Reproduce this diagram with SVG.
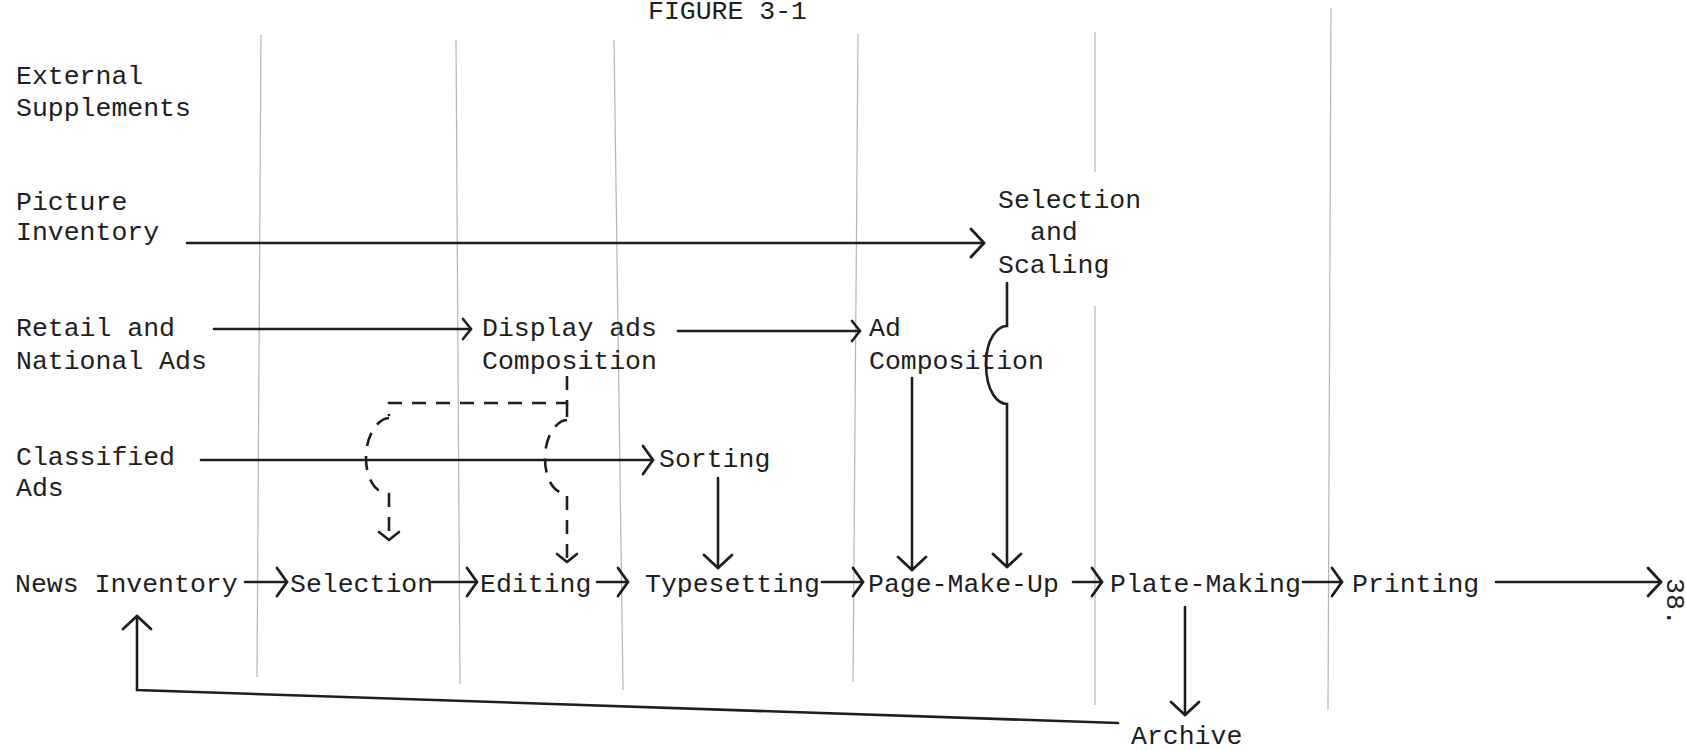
<svg xmlns="http://www.w3.org/2000/svg" width="1686" height="750" viewBox="0 0 1686 750">
<defs>
<style>
text{font-family:"Liberation Mono","DejaVu Sans Mono",monospace;font-size:26.5px;fill:#1e1e1e}
.grid{stroke:#b4b4b4;stroke-width:1.2;fill:none}
.ln{stroke:#1e1e1e;stroke-width:2.6;fill:none;stroke-linecap:round}
.ds{stroke:#1e1e1e;stroke-width:2.6;fill:none;stroke-dasharray:14 10}
</style>
<marker id="big" viewBox="-16 -16 18 32" markerWidth="18" markerHeight="32" refX="0" refY="0" orient="auto" markerUnits="userSpaceOnUse"><path d="M-13,-14 L0,0 L-13,14" fill="none" stroke="#1e1e1e" stroke-width="2.8" stroke-linejoin="round" stroke-linecap="round"/></marker>
<marker id="mid" viewBox="-16 -16 18 32" markerWidth="18" markerHeight="32" refX="0" refY="0" orient="auto" markerUnits="userSpaceOnUse"><path d="M-10,-14 L0,0 L-10,14" fill="none" stroke="#1e1e1e" stroke-width="2.8" stroke-linejoin="round" stroke-linecap="round"/></marker>
<marker id="sm" viewBox="-14 -12 16 24" markerWidth="16" markerHeight="24" refX="0" refY="0" orient="auto" markerUnits="userSpaceOnUse"><path d="M-8,-10 L0,0 L-8,10" fill="none" stroke="#1e1e1e" stroke-width="2.6" stroke-linejoin="round" stroke-linecap="round"/></marker>
</defs>
<rect width="1686" height="750" fill="#ffffff"/>
<g id="grid-lines">
<line class="grid" x1="261" y1="35" x2="257" y2="677"/>
<line class="grid" x1="456" y1="40" x2="460" y2="684"/>
<line class="grid" x1="614" y1="40" x2="623" y2="690"/>
<line class="grid" x1="858" y1="34" x2="853" y2="682"/>
<line class="grid" x1="1095" y1="32" x2="1095" y2="172"/>
<line class="grid" x1="1095" y1="306" x2="1095" y2="705"/>
<line class="grid" x1="1331" y1="8" x2="1328" y2="710"/>
</g>
<text id="title" x="648" y="19">FIGURE 3-1</text>
<g id="external-supplements"><text x="16" y="84">External</text><text x="16" y="116">Supplements</text></g>
<g id="picture-inventory"><text x="16" y="210">Picture</text><text x="16" y="240">Inventory</text></g>
<g id="selection-scaling"><text x="998" y="208">Selection</text><text x="1030" y="240">and</text><text x="998" y="273">Scaling</text></g>
<g id="retail-national"><text x="16" y="336">Retail and</text><text x="16" y="369">National Ads</text></g>
<g id="display-ads"><text x="482" y="336">Display ads</text><text x="482" y="369">Composition</text></g>
<g id="ad-composition"><text x="869" y="336">Ad</text><text x="869" y="369">Composition</text></g>
<g id="classified"><text x="16" y="465">Classified</text><text x="16" y="496">Ads</text></g>
<g id="sorting"><text x="659" y="467">Sorting</text></g>
<g id="news-inventory"><text x="15" y="592">News Inventory</text></g>
<g id="selection"><text x="290" y="592">Selection</text></g>
<g id="editing"><text x="480" y="592">Editing</text></g>
<g id="typesetting"><text x="645" y="592">Typesetting</text></g>
<g id="page-make-up"><text x="868" y="592">Page-Make-Up</text></g>
<g id="plate-making"><text x="1110" y="592">Plate-Making</text></g>
<g id="printing"><text x="1352" y="592">Printing</text></g>
<g id="archive"><text x="1131" y="744">Archive</text></g>
<text id="page-number" transform="translate(1667,578) rotate(90)">38.</text>
<g id="connectors">
<line class="ln" x1="187" y1="243" x2="984" y2="243" marker-end="url(#big)"/>
<line class="ln" x1="214" y1="329" x2="471" y2="329" marker-end="url(#sm)"/>
<line class="ln" x1="678" y1="331" x2="860" y2="331" marker-end="url(#sm)"/>
<line class="ln" x1="201" y1="460" x2="653" y2="460" marker-end="url(#mid)"/>
<line class="ln" x1="718" y1="478" x2="718" y2="568" marker-end="url(#big)"/>
<line class="ln" x1="912" y1="378" x2="912" y2="570" marker-end="url(#big)"/>
<path class="ln" d="M1007,283 L1007,326 C998,326 986,338 986,364 C986,392 998,404 1007,404 L1007,567" marker-end="url(#big)"/>
<path class="ds" d="M567,376 L567,403 L389,403 L389,416"/>
<path class="ds" d="M389,418 C380,418 366,432 366,458 C366,482 378,494 389,494 L389,540" marker-end="url(#sm)"/>
<path class="ds" d="M567,403 L567,418"/>
<path class="ds" d="M567,420 C558,420 545,434 545,458 C545,482 556,494 567,494 L567,562" marker-end="url(#sm)"/>
<line class="ln" x1="245" y1="582" x2="287" y2="582" marker-end="url(#mid)"/>
<line class="ln" x1="432" y1="582" x2="477" y2="582" marker-end="url(#mid)"/>
<line class="ln" x1="597" y1="582" x2="628" y2="582" marker-end="url(#mid)"/>
<line class="ln" x1="822" y1="582" x2="863" y2="582" marker-end="url(#mid)"/>
<line class="ln" x1="1073" y1="582" x2="1102" y2="582" marker-end="url(#mid)"/>
<line class="ln" x1="1303" y1="582" x2="1342" y2="582" marker-end="url(#mid)"/>
<line class="ln" x1="1496" y1="582" x2="1661" y2="582" marker-end="url(#big)"/>
<line class="ln" x1="1185" y1="607" x2="1185" y2="715" marker-end="url(#big)"/>
<path class="ln" d="M1118,723 L137,690 L137,616" marker-end="url(#big)"/>
</g>
</svg>
